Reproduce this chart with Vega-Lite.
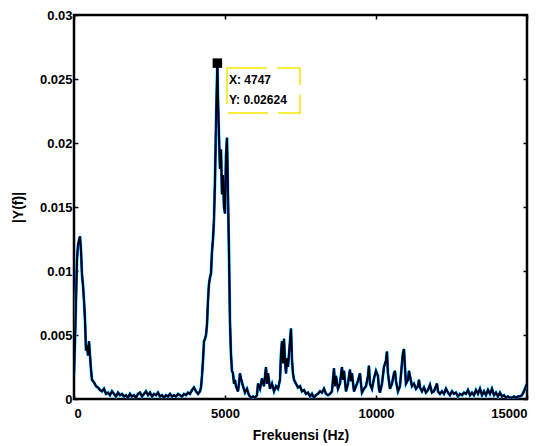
{
  "$schema": "https://vega.github.io/schema/vega-lite/v6.json",
  "width": 453,
  "height": 384,
  "autosize": "none",
  "padding": {"left": 74, "top": 15, "right": 17, "bottom": 47},
  "config": {
    "view": {"stroke": "black", "strokeWidth": 2.5},
    "font": "Liberation Sans",
    "axis": {
      "labelFont": "Liberation Sans", "labelFontWeight": "bold", "labelFontSize": 13, "labelColor": "black",
      "titleFont": "Liberation Sans", "titleFontWeight": "bold", "titleFontSize": 14, "titleColor": "black",
      "domain": false, "grid": false, "tickColor": "black", "tickWidth": 1.5, "tickSize": -4
    }
  },
  "datasets": {
    "spec": [
      {"f": 0, "y": 0.0019}, {"f": 33, "y": 0.0046}, {"f": 66, "y": 0.0077}, {"f": 99, "y": 0.0109},
      {"f": 132, "y": 0.012}, {"f": 166, "y": 0.0124}, {"f": 199, "y": 0.0127}, {"f": 232, "y": 0.0116},
      {"f": 265, "y": 0.0097}, {"f": 298, "y": 0.0089}, {"f": 331, "y": 0.0077}, {"f": 364, "y": 0.0062},
      {"f": 397, "y": 0.0038}, {"f": 430, "y": 0.0042}, {"f": 464, "y": 0.0034}, {"f": 497, "y": 0.0045},
      {"f": 530, "y": 0.0034}, {"f": 563, "y": 0.0023}, {"f": 596, "y": 0.0015}, {"f": 662, "y": 0.0013},
      {"f": 728, "y": 0.001}, {"f": 795, "y": 0.0009}, {"f": 861, "y": 0.0007}, {"f": 927, "y": 0.0006},
      {"f": 993, "y": 0.0008}, {"f": 1060, "y": 0.0004}, {"f": 1126, "y": 0.0005}, {"f": 1192, "y": 0.0003},
      {"f": 1258, "y": 0.0006}, {"f": 1324, "y": 0.0004}, {"f": 1391, "y": 0.0002}, {"f": 1457, "y": 0.0005},
      {"f": 1523, "y": 0.0003}, {"f": 1589, "y": 0.0004}, {"f": 1656, "y": 0.0002}, {"f": 1722, "y": 0.0003},
      {"f": 1788, "y": 0.0001}, {"f": 1854, "y": 0.0004}, {"f": 1920, "y": 0.0002}, {"f": 1987, "y": 0.0003},
      {"f": 2053, "y": 0.0001}, {"f": 2119, "y": 0.0004}, {"f": 2185, "y": 0.0005}, {"f": 2251, "y": 0.0002},
      {"f": 2318, "y": 0.0004}, {"f": 2384, "y": 0.0006}, {"f": 2450, "y": 0.0003}, {"f": 2516, "y": 0.0005},
      {"f": 2583, "y": 0.0002}, {"f": 2649, "y": 0.0004}, {"f": 2715, "y": 0.0003}, {"f": 2781, "y": 0.0005},
      {"f": 2847, "y": 0.0002}, {"f": 2914, "y": 0.0003}, {"f": 2980, "y": 0.0001}, {"f": 3046, "y": 0.0003},
      {"f": 3112, "y": 0.0002}, {"f": 3179, "y": 0.0004}, {"f": 3245, "y": 0.0002}, {"f": 3311, "y": 0.0003},
      {"f": 3377, "y": 0.0002}, {"f": 3443, "y": 0.0004}, {"f": 3510, "y": 0.0003}, {"f": 3576, "y": 0.0002},
      {"f": 3642, "y": 0.0004}, {"f": 3708, "y": 0.0003}, {"f": 3775, "y": 0.0005}, {"f": 3841, "y": 0.0004},
      {"f": 3907, "y": 0.0007}, {"f": 3973, "y": 0.0009}, {"f": 4039, "y": 0.0006}, {"f": 4106, "y": 0.0004},
      {"f": 4172, "y": 0.0006}, {"f": 4205, "y": 0.0009}, {"f": 4238, "y": 0.0018}, {"f": 4271, "y": 0.003},
      {"f": 4304, "y": 0.0045}, {"f": 4338, "y": 0.0047}, {"f": 4371, "y": 0.005}, {"f": 4404, "y": 0.0058},
      {"f": 4437, "y": 0.0077}, {"f": 4470, "y": 0.009}, {"f": 4503, "y": 0.0095}, {"f": 4536, "y": 0.0098},
      {"f": 4569, "y": 0.0115}, {"f": 4602, "y": 0.0125}, {"f": 4635, "y": 0.014}, {"f": 4668, "y": 0.017},
      {"f": 4702, "y": 0.0215}, {"f": 4747, "y": 0.02624}, {"f": 4768, "y": 0.0235}, {"f": 4801, "y": 0.0205},
      {"f": 4834, "y": 0.018}, {"f": 4867, "y": 0.0195}, {"f": 4900, "y": 0.016}, {"f": 4933, "y": 0.0175},
      {"f": 4966, "y": 0.015}, {"f": 5000, "y": 0.0145}, {"f": 5033, "y": 0.019}, {"f": 5066, "y": 0.0204},
      {"f": 5099, "y": 0.016}, {"f": 5132, "y": 0.0115}, {"f": 5165, "y": 0.006}, {"f": 5198, "y": 0.0035},
      {"f": 5231, "y": 0.0022}, {"f": 5265, "y": 0.002}, {"f": 5298, "y": 0.0012}, {"f": 5331, "y": 0.0015},
      {"f": 5364, "y": 0.001}, {"f": 5397, "y": 0.0008}, {"f": 5430, "y": 0.0006}, {"f": 5463, "y": 0.0012},
      {"f": 5496, "y": 0.002}, {"f": 5529, "y": 0.0016}, {"f": 5596, "y": 0.001}, {"f": 5662, "y": 0.0005},
      {"f": 5728, "y": 0.0008}, {"f": 5794, "y": 0.0003}, {"f": 5861, "y": 0.0001}, {"f": 5927, "y": 0.0002},
      {"f": 5993, "y": 0.0001}, {"f": 6059, "y": 0.0003}, {"f": 6093, "y": 0.0012}, {"f": 6159, "y": 0.0008},
      {"f": 6225, "y": 0.0016}, {"f": 6291, "y": 0.001}, {"f": 6358, "y": 0.0025}, {"f": 6391, "y": 0.0012},
      {"f": 6424, "y": 0.002}, {"f": 6490, "y": 0.0008}, {"f": 6556, "y": 0.0012}, {"f": 6623, "y": 0.0006},
      {"f": 6689, "y": 0.001}, {"f": 6755, "y": 0.0008}, {"f": 6821, "y": 0.0015}, {"f": 6854, "y": 0.0035},
      {"f": 6887, "y": 0.0045}, {"f": 6921, "y": 0.0028}, {"f": 6954, "y": 0.0047}, {"f": 6987, "y": 0.003},
      {"f": 7020, "y": 0.002}, {"f": 7053, "y": 0.0032}, {"f": 7086, "y": 0.0025}, {"f": 7152, "y": 0.0045},
      {"f": 7185, "y": 0.0055}, {"f": 7219, "y": 0.003}, {"f": 7252, "y": 0.002}, {"f": 7285, "y": 0.0015},
      {"f": 7351, "y": 0.0012}, {"f": 7417, "y": 0.0009}, {"f": 7483, "y": 0.001}, {"f": 7549, "y": 0.0006},
      {"f": 7615, "y": 0.0007}, {"f": 7682, "y": 0.0004}, {"f": 7748, "y": 0.0005}, {"f": 7814, "y": 0.0002},
      {"f": 7880, "y": 0.0004}, {"f": 7946, "y": 0.0001}, {"f": 8013, "y": 0.0003}, {"f": 8079, "y": 0.0004},
      {"f": 8145, "y": 0.0006}, {"f": 8211, "y": 0.0005}, {"f": 8278, "y": 0.0008}, {"f": 8344, "y": 0.0004},
      {"f": 8410, "y": 0.0003}, {"f": 8476, "y": 0.0004}, {"f": 8542, "y": 0.0006}, {"f": 8609, "y": 0.0024},
      {"f": 8642, "y": 0.001}, {"f": 8675, "y": 0.0018}, {"f": 8741, "y": 0.0008}, {"f": 8807, "y": 0.0012},
      {"f": 8873, "y": 0.0025}, {"f": 8906, "y": 0.0015}, {"f": 8940, "y": 0.0022}, {"f": 9006, "y": 0.0006},
      {"f": 9072, "y": 0.0012}, {"f": 9138, "y": 0.0023}, {"f": 9171, "y": 0.0014}, {"f": 9204, "y": 0.002},
      {"f": 9271, "y": 0.0006}, {"f": 9337, "y": 0.001}, {"f": 9403, "y": 0.0014}, {"f": 9469, "y": 0.002},
      {"f": 9502, "y": 0.0012}, {"f": 9535, "y": 0.0005}, {"f": 9602, "y": 0.0008}, {"f": 9668, "y": 0.001},
      {"f": 9734, "y": 0.0018}, {"f": 9767, "y": 0.0026}, {"f": 9800, "y": 0.0012}, {"f": 9867, "y": 0.0008},
      {"f": 9933, "y": 0.0016}, {"f": 9999, "y": 0.0022}, {"f": 10065, "y": 0.0018}, {"f": 10098, "y": 0.0008},
      {"f": 10131, "y": 0.0005}, {"f": 10198, "y": 0.0012}, {"f": 10264, "y": 0.0025}, {"f": 10330, "y": 0.003},
      {"f": 10363, "y": 0.0037}, {"f": 10396, "y": 0.002}, {"f": 10463, "y": 0.0008}, {"f": 10529, "y": 0.0012},
      {"f": 10595, "y": 0.002}, {"f": 10628, "y": 0.0022}, {"f": 10661, "y": 0.0014}, {"f": 10728, "y": 0.0006},
      {"f": 10794, "y": 0.001}, {"f": 10860, "y": 0.0028}, {"f": 10893, "y": 0.0036}, {"f": 10926, "y": 0.0039},
      {"f": 10959, "y": 0.0025}, {"f": 10992, "y": 0.0012}, {"f": 11059, "y": 0.0015}, {"f": 11092, "y": 0.0022},
      {"f": 11125, "y": 0.0018}, {"f": 11191, "y": 0.001}, {"f": 11257, "y": 0.0012}, {"f": 11324, "y": 0.0008},
      {"f": 11390, "y": 0.001}, {"f": 11423, "y": 0.0015}, {"f": 11456, "y": 0.0009}, {"f": 11522, "y": 0.0006},
      {"f": 11588, "y": 0.0009}, {"f": 11654, "y": 0.0005}, {"f": 11721, "y": 0.0007}, {"f": 11787, "y": 0.0011},
      {"f": 11853, "y": 0.0005}, {"f": 11919, "y": 0.0006}, {"f": 11986, "y": 0.001}, {"f": 12019, "y": 0.0012},
      {"f": 12052, "y": 0.0006}, {"f": 12118, "y": 0.0004}, {"f": 12184, "y": 0.0006}, {"f": 12251, "y": 0.0004},
      {"f": 12317, "y": 0.0008}, {"f": 12383, "y": 0.0005}, {"f": 12449, "y": 0.0003}, {"f": 12516, "y": 0.0006},
      {"f": 12582, "y": 0.0004}, {"f": 12648, "y": 0.0005}, {"f": 12714, "y": 0.0002}, {"f": 12780, "y": 0.0004},
      {"f": 12847, "y": 0.0003}, {"f": 12913, "y": 0.0005}, {"f": 12979, "y": 0.0004}, {"f": 13045, "y": 0.0007},
      {"f": 13112, "y": 0.0003}, {"f": 13178, "y": 0.0005}, {"f": 13244, "y": 0.0003}, {"f": 13310, "y": 0.0007},
      {"f": 13376, "y": 0.0004}, {"f": 13443, "y": 0.0008}, {"f": 13509, "y": 0.0003}, {"f": 13575, "y": 0.0006},
      {"f": 13641, "y": 0.0003}, {"f": 13708, "y": 0.0007}, {"f": 13774, "y": 0.0004}, {"f": 13840, "y": 0.0008},
      {"f": 13906, "y": 0.0003}, {"f": 13972, "y": 0.0005}, {"f": 14039, "y": 0.0002}, {"f": 14105, "y": 0.0005},
      {"f": 14171, "y": 0.0002}, {"f": 14237, "y": 0.0003}, {"f": 14304, "y": 0.0001}, {"f": 14370, "y": 0.0002},
      {"f": 14436, "y": 0.0001}, {"f": 14502, "y": 0.0001}, {"f": 14569, "y": 0.0002}, {"f": 14635, "y": 0.0001},
      {"f": 14701, "y": 0.0002}, {"f": 14767, "y": 0.0002}, {"f": 14833, "y": 0.0003}, {"f": 14900, "y": 0.0006},
      {"f": 14933, "y": 0.0008}, {"f": 14966, "y": 0.001}, {"f": 15000, "y": 0.0012}
    ],
    "tip": [{"f": 4747, "y": 0.02624}],
    "tipbox": [{"x1": 5066, "x2": 7483, "y1": 0.02234, "y2": 0.02586}],
    "tiptext": [
      {"f": 5132, "y": 0.02492, "t": "X: 4747"},
      {"f": 5132, "y": 0.02336, "t": "Y: 0.02624"}
    ]
  },
  "layer": [
    {
      "data": {"name": "spec"},
      "mark": {"type": "line", "color": "#00e8ff", "strokeWidth": 3, "clip": true},
      "encoding": {
        "x": {"field": "f", "type": "quantitative", "scale": {"domain": [0, 15000], "nice": false},
              "axis": {"orient": "bottom", "values": [0, 5000, 10000, 15000], "format": "d", "title": "Frekuensi (Hz)", "labelPadding": 12, "titlePadding": 8}},
        "y": {"field": "y", "type": "quantitative", "scale": {"domain": [0, 0.03], "nice": false},
              "axis": {"orient": "left", "values": [0, 0.005, 0.01, 0.015, 0.02, 0.025, 0.03], "format": "~g", "title": "|Y(f)|", "labelPadding": 6, "titlePadding": 14}}
      }
    },
    {
      "data": {"name": "spec"},
      "mark": {"type": "line", "color": "#1010ff", "strokeWidth": 2.2, "clip": true},
      "encoding": {
        "x": {"field": "f", "type": "quantitative", "axis": {"orient": "top", "values": [0, 5000, 10000, 15000], "labels": false, "title": null}},
        "y": {"field": "y", "type": "quantitative", "axis": {"orient": "right", "values": [0, 0.005, 0.01, 0.015, 0.02, 0.025, 0.03], "labels": false, "title": null}}
      }
    },
    {
      "data": {"name": "spec"},
      "mark": {"type": "line", "color": "black", "strokeWidth": 1.8, "clip": true},
      "encoding": {
        "x": {"field": "f", "type": "quantitative", "axis": null},
        "y": {"field": "y", "type": "quantitative", "axis": null}
      }
    },
    {
      "data": {"name": "tipbox"},
      "mark": {"type": "rect", "fill": null, "stroke": "#f5e600", "strokeWidth": 1.5, "strokeDash": [40, 10]},
      "encoding": {
        "x": {"field": "x1", "type": "quantitative", "axis": null},
        "x2": {"field": "x2"},
        "y": {"field": "y1", "type": "quantitative", "axis": null},
        "y2": {"field": "y2"}
      }
    },
    {
      "data": {"name": "tiptext"},
      "mark": {"type": "text", "align": "left", "baseline": "middle", "font": "Liberation Sans", "fontWeight": "bold", "fontSize": 12, "color": "black"},
      "encoding": {
        "x": {"field": "f", "type": "quantitative", "axis": null},
        "y": {"field": "y", "type": "quantitative", "axis": null},
        "text": {"field": "t"}
      }
    },
    {
      "data": {"name": "tip"},
      "mark": {"type": "square", "size": 90, "color": "black", "opacity": 1, "filled": true},
      "encoding": {
        "x": {"field": "f", "type": "quantitative", "axis": null},
        "y": {"field": "y", "type": "quantitative", "axis": null}
      }
    }
  ]
}
